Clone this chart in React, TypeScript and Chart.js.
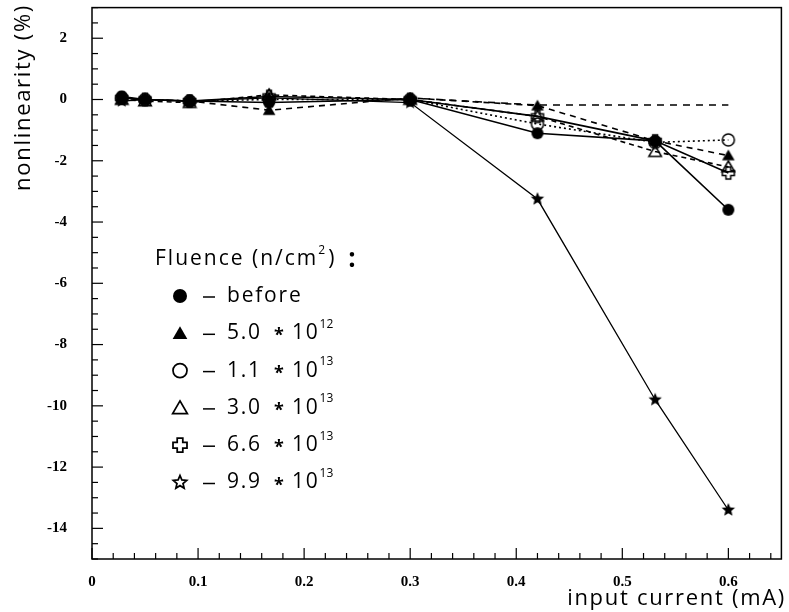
import React, { useEffect, useRef } from "react";
import { Chart, registerables } from "chart.js";
Chart.register(...registerables);

// ---- data ----
const xValues = [0.028, 0.05, 0.092, 0.167, 0.3, 0.42, 0.531, 0.6];
const beforeVals = [0.1, 0.0, -0.05, -0.1, 0.0, -1.1, -1.35, -3.6];
const f50e12Vals = [0.0, 0.0, -0.05, -0.35, 0.05, -0.2, -1.35, -1.83];
const f11e13Vals = [0.05, 0.0, -0.05, 0.0, 0.0, -0.8, -1.4, -1.32];
const f30e13Vals = [0.0, -0.05, -0.1, 0.15, 0.0, -0.55, -1.7, -2.2];
const f66e13Vals = [0.05, 0.0, -0.05, 0.1, 0.0, -0.55, -1.35, -2.4];
const f99e13Vals = [-0.05, 0.0, -0.05, 0.05, -0.1, -3.25, -9.8, -13.4];
const refDashVals = [null, null, null, null, 0.05, -0.18, -0.18, -0.18];

const legendNames = ["before", "5.0", "1.1", "3.0", "6.6", "9.9"];
const legendExps = ["", "12", "13", "13", "13", "13"];
const xTicks = [0, 0.1, 0.2, 0.3, 0.4, 0.5, 0.6];
const yTicks = [2, 0, -2, -4, -6, -8, -10, -12, -14];

const SANS = '"Open Sans", "DejaVu Sans", sans-serif';
const SERIF = '"Liberation Serif", "DejaVu Serif", serif';

type Mk = "fcircle" | "ftri" | "ocircle" | "otri" | "ocross" | "fstar" | "ostar";

function drawMarker(ctx: CanvasRenderingContext2D, type: Mk, x: number, y: number, r: number) {
  ctx.save();
  ctx.strokeStyle = "#000";
  ctx.fillStyle = "#000";
  ctx.lineWidth = Math.max(1.5, r * 0.25);
  ctx.beginPath();
  if (type === "fcircle" || type === "ocircle") {
    ctx.arc(x, y, r, 0, Math.PI * 2);
    if (type === "fcircle") ctx.fill();
    else ctx.stroke();
  } else if (type === "ftri" || type === "otri") {
    ctx.moveTo(x, y - r);
    ctx.lineTo(x + r * 1.05, y + r * 0.8);
    ctx.lineTo(x - r * 1.05, y + r * 0.8);
    ctx.closePath();
    if (type === "ftri") ctx.fill();
    else ctx.stroke();
  } else if (type === "ocross") {
    const a = r * 0.4;
    const b = r;
    ctx.moveTo(x - a, y - b);
    ctx.lineTo(x + a, y - b);
    ctx.lineTo(x + a, y - a);
    ctx.lineTo(x + b, y - a);
    ctx.lineTo(x + b, y + a);
    ctx.lineTo(x + a, y + a);
    ctx.lineTo(x + a, y + b);
    ctx.lineTo(x - a, y + b);
    ctx.lineTo(x - a, y + a);
    ctx.lineTo(x - b, y + a);
    ctx.lineTo(x - b, y - a);
    ctx.lineTo(x - a, y - a);
    ctx.closePath();
    ctx.stroke();
  } else {
    for (let i = 0; i < 10; i++) {
      const ang = -Math.PI / 2 + (i * Math.PI) / 5;
      const rr = i % 2 === 0 ? r : r * 0.45;
      const px = x + rr * Math.cos(ang);
      const py = y + rr * Math.sin(ang);
      if (i === 0) ctx.moveTo(px, py);
      else ctx.lineTo(px, py);
    }
    ctx.closePath();
    if (type === "fstar") ctx.fill();
    else ctx.stroke();
  }
  ctx.restore();
}

function markerImage(type: Mk, r: number) {
  const s = Math.ceil(r * 2 + 4);
  const c = document.createElement("canvas");
  c.width = s;
  c.height = s;
  const ctx = c.getContext("2d")!;
  drawMarker(ctx, type, s / 2, s / 2, r);
  return c;
}

const chartMarkers: Mk[] = ["fcircle", "ftri", "ocircle", "otri", "ocross", "fstar"];
const legendMarkers: Mk[] = ["fcircle", "ftri", "ocircle", "otri", "ocross", "ostar"];
const seriesVals = [beforeVals, f50e12Vals, f11e13Vals, f30e13Vals, f66e13Vals, f99e13Vals];
const dashes = [[], [6, 5], [2, 3], [5, 4], [], []];

const decorPlugin = {
  id: "decor",
  afterDraw(chart: any) {
    const ctx: any = chart.ctx;
    const { left, right, top, bottom } = chart.chartArea;
    const xs = chart.scales.x;
    const ys = chart.scales.y;
    ctx.save();
    ctx.strokeStyle = "#000";
    ctx.lineWidth = 1.5;
    ctx.strokeRect(left, top, right - left, bottom - top);
    ctx.lineWidth = 1.2;
    // y ticks (inward)
    for (let i = 0; i <= 36; i++) {
      const v = -15 + i * 0.5;
      const py = ys.getPixelForValue(v);
      const major = Math.abs(v % 2) < 1e-9;
      ctx.beginPath();
      ctx.moveTo(left, py);
      ctx.lineTo(left + (major ? 11 : 6), py);
      ctx.stroke();
    }
    // x ticks (inward)
    for (let i = 0; i <= 32; i++) {
      const v = i * 0.02;
      const px = xs.getPixelForValue(v);
      const major = i % 5 === 0;
      ctx.beginPath();
      ctx.moveTo(px, bottom);
      ctx.lineTo(px, bottom - (major ? 11 : 6));
      ctx.stroke();
    }
    // axis titles
    ctx.fillStyle = "#000";
    ctx.font = `22px ${SANS}`;
    ctx.letterSpacing = "1.7px";
    ctx.textAlign = "right";
    ctx.textBaseline = "alphabetic";
    ctx.fillText("input current (mA)", 786, 605);
    ctx.save();
    ctx.translate(30, 4);
    ctx.rotate(-Math.PI / 2);
    ctx.textAlign = "right";
    ctx.fillText("nonlinearity (%)", 0, 0);
    ctx.restore();

    // legend
    ctx.textAlign = "left";
    ctx.textBaseline = "middle";
    ctx.letterSpacing = "2px";
    ctx.font = `21px ${SANS}`;
    let tx = 155;
    const ty = 259;
    const p1 = "Fluence (n/cm";
    ctx.fillText(p1, tx, ty);
    tx += ctx.measureText(p1).width;
    ctx.font = `12px ${SANS}`;
    ctx.fillText("2", tx, ty - 8);
    tx += ctx.measureText("2").width + 1;
    ctx.font = `21px ${SANS}`;
    ctx.fillText(")", tx, ty);
    tx += ctx.measureText(")").width + 12;
    ctx.font = `bold 26px ${SANS}`;
    ctx.fillText(":", tx, ty + 1);

    for (let i = 0; i < legendNames.length; i++) {
      const ry = 296 + i * 37.3;
      drawMarker(ctx, legendMarkers[i], 180, ry, 7);
      ctx.lineWidth = 1.5;
      ctx.beginPath();
      ctx.moveTo(203, ry + 1);
      ctx.lineTo(215, ry + 1);
      ctx.stroke();
      ctx.letterSpacing = "1.8px";
      ctx.font = `21px ${SANS}`;
      ctx.fillText(legendNames[i], 227, ry);
      if (legendExps[i]) {
        ctx.font = `bold 18px ${SANS}`;
        ctx.textAlign = "center";
        ctx.letterSpacing = "0px";
        ctx.fillText("*", 279, ry + 3);
        ctx.textAlign = "left";
        ctx.letterSpacing = "1.8px";
        ctx.font = `21px ${SANS}`;
        ctx.fillText("10", 292, ry);
        const w = ctx.measureText("10").width;
        ctx.letterSpacing = "0px";
        ctx.font = `12px ${SANS}`;
        ctx.fillText(legendExps[i], 292 + w, ry - 9);
      }
    }
    ctx.restore();
  },
};

export default function App() {
  const ref = useRef<HTMLCanvasElement | null>(null);
  useEffect(() => {
    document.body.style.margin = "0";
    const canvas = ref.current!;
    const datasets: any[] = seriesVals.map((vals, i) => ({
      label: legendNames[i],
      data: xValues.map((x, j) => ({ x, y: vals[j] })),
      borderColor: "#000",
      borderWidth: i === 5 ? 1.3 : 1.6,
      borderDash: dashes[i],
      pointStyle: markerImage(chartMarkers[i], chartMarkers[i] === "fstar" ? 7 : 6),
      pointRadius: 6,
      tension: 0,
      fill: false,
    }));
    datasets.unshift({
      label: "ref",
      data: xValues.map((x, j) => ({ x, y: refDashVals[j] })),
      borderColor: "#000",
      borderWidth: 1.6,
      borderDash: [7, 6],
      pointRadius: 0,
      spanGaps: false,
      fill: false,
    });
    const chart = new Chart(canvas, {
      type: "line",
      data: { datasets },
      options: {
        animation: false,
        responsive: false,
        devicePixelRatio: 1,
        layout: { padding: { top: 4, right: 4, left: 0, bottom: 0 } },
        plugins: { legend: { display: false }, tooltip: { enabled: false } },
        scales: {
          x: {
            type: "linear",
            min: 0,
            max: 0.65,
            grid: { display: false },
            border: { display: false },
            afterBuildTicks: (s: any) => {
              s.ticks = xTicks.map((v) => ({ value: v }));
            },
            afterFit: (s: any) => {
              s.height = 53;
              s.paddingLeft = 0;
              s.paddingRight = 0;
            },
            ticks: {
              color: "#000",
              padding: 6,
              maxRotation: 0,
              autoSkip: false,
              font: { family: SERIF, weight: "bold", size: 15 },
              callback: (v: any) => (Number(v) === 0 ? "0" : Number(v).toFixed(1)),
            },
          },
          y: {
            type: "linear",
            min: -15,
            max: 3,
            grid: { display: false },
            border: { display: false },
            afterBuildTicks: (s: any) => {
              s.ticks = yTicks.map((v) => ({ value: v }));
            },
            afterFit: (s: any) => {
              s.width = 92;
              s.paddingTop = 0;
              s.paddingBottom = 0;
            },
            ticks: {
              color: "#000",
              padding: 17,
              autoSkip: false,
              font: { family: SERIF, weight: "bold", size: 15 },
              callback: (v: any) => String(v),
            },
          },
        },
      },
      plugins: [decorPlugin],
    } as any);
    return () => chart.destroy();
  }, []);
  return (
    <div style={{ position: "absolute", left: 0, top: 0, width: 789, height: 612, background: "#fff" }}>
      <canvas ref={ref} width={789} height={612} />
    </div>
  );
}
